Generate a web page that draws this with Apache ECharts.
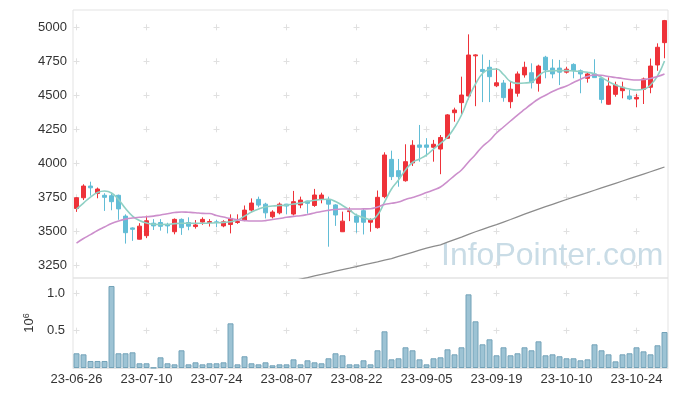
<!DOCTYPE html>
<html><head><meta charset="utf-8">
<script src="https://cdn.jsdelivr.net/npm/echarts/dist/echarts.min.js"></script>
<style>html,body{margin:0;padding:0;background:#fff}#c{width:677px;height:396px}</style>
</head><body><div id="c"></div>
<script>
const dates = ['23-06-26','23-06-27','23-06-28','23-06-29','23-06-30','23-07-03','23-07-04','23-07-05','23-07-06','23-07-07',
'23-07-10','23-07-11','23-07-12','23-07-13','23-07-14','23-07-17','23-07-18','23-07-19','23-07-20','23-07-21',
'23-07-24','23-07-25','23-07-26','23-07-27','23-07-28','23-07-31','23-08-01','23-08-02','23-08-03','23-08-04',
'23-08-07','23-08-08','23-08-09','23-08-10','23-08-11','23-08-14','23-08-16','23-08-17','23-08-18','23-08-21',
'23-08-22','23-08-23','23-08-24','23-08-25','23-08-28','23-08-29','23-08-30','23-08-31','23-09-01','23-09-04',
'23-09-05','23-09-06','23-09-07','23-09-08','23-09-11','23-09-12','23-09-13','23-09-14','23-09-15','23-09-18',
'23-09-19','23-09-20','23-09-21','23-09-22','23-09-25','23-09-26','23-09-27','23-10-04','23-10-05','23-10-06',
'23-10-10','23-10-11','23-10-12','23-10-13','23-10-16','23-10-17','23-10-18','23-10-19','23-10-20','23-10-23',
'23-10-24','23-10-25','23-10-26','23-10-27','23-10-30'];

const openP = [3668,3747,3833,3779,3765,3762,3765,3612,3525,3442,
3468,3560,3565,3550,3497,3588,3565,3535,3568,3565,
3570,3540,3550,3565,3583,3656,3735,3700,3607,3636,
3700,3627,3694,3723,3690,3738,3735,3694,3497,3645,
3612,3652,3567,3527,3755,4029,3946,3872,4003,4135,
4135,4118,4105,4184,4372,4446,4495,4790,4690,4706,
4570,4590,4453,4515,4650,4666,4588,4780,4700,4700,
4670,4727,4680,4625,4657,4625,4434,4507,4534,4495,
4473,4544,4559,4723,4887];
const closeP = [3747,3833,3820,3811,3750,3718,3665,3490,3515,3538,
3578,3540,3537,3540,3588,3527,3538,3547,3588,3572,
3565,3570,3595,3572,3656,3708,3693,3636,3642,3700,
3686,3718,3730,3706,3767,3767,3700,3620,3575,3651,
3567,3567,3582,3750,4061,3902,3902,4012,4133,4118,
4118,4140,4190,4356,4392,4502,4796,4797,4675,4637,
4592,4483,4545,4657,4706,4593,4715,4686,4657,4670,
4692,4681,4657,4657,4630,4470,4568,4576,4559,4473,
4485,4620,4715,4853,5049];
const lowP = [3643,3730,3762,3743,3650,3655,3585,3410,3430,3440,
3450,3510,3505,3485,3478,3474,3508,3520,3548,3535,
3530,3530,3485,3555,3575,3640,3677,3595,3595,3625,
3625,3617,3670,3630,3680,3706,3387,3540,3495,3575,
3490,3477,3497,3520,3743,3877,3828,3865,3980,4012,
4050,4012,3920,4180,4306,4355,4470,4420,4450,4450,
4560,4453,4405,4490,4630,4550,4527,4625,4625,4575,
4660,4625,4515,4593,4630,4441,4430,4490,4478,4465,
4412,4436,4515,4680,4772];
const highP = [3752,3846,3865,3822,3780,3780,3770,3625,3530,3560,
3615,3590,3590,3563,3595,3595,3603,3583,3603,3590,
3585,3582,3625,3625,3690,3742,3755,3710,3655,3712,
3702,3797,3755,3725,3812,3784,3755,3700,3645,3675,
3630,3670,3595,3800,4081,4093,4032,4140,4170,4282,
4185,4172,4208,4362,4409,4637,4948,4802,4800,4760,
4700,4612,4600,4675,4747,4735,4725,4790,4765,4760,
4710,4735,4690,4666,4765,4637,4632,4600,4600,4540,
4510,4630,4770,4882,5054];

const ma5 = [3664,3708,3752,3785,3796,3782,3734,3668,3612,3579,
3561,3551,3550,3551,3557,3559,3559,3559,3559,3561,
3563,3566,3571,3583,3612,3642,3664,3679,3686,3690,
3693,3701,3708,3719,3728,3734,3736,3719,3690,3657,
3620,3601,3587,3620,3715,3811,3877,3951,4006,4032,
4061,4105,4146,4193,4263,4355,4480,4583,4660,4690,
4693,4653,4601,4588,4590,4598,4642,4675,4680,4681,
4681,4679,4675,4669,4658,4631,4601,4576,4559,4546,
4539,4544,4576,4642,4752];
const ma20 = [3414,3447,3476,3506,3532,3557,3576,3590,3598,3603,
3607,3612,3620,3629,3638,3642,3640,3637,3632,3631,
3616,3605,3594,3585,3579,3576,3576,3579,3587,3594,
3603,3610,3615,3624,3635,3646,3654,3660,3664,3664,
3664,3665,3666,3679,3697,3706,3715,3734,3749,3765,
3785,3804,3826,3866,3910,3951,4010,4065,4124,4168,
4223,4267,4311,4355,4396,4436,4473,4500,4528,4550,
4568,4594,4618,4638,4649,4647,4638,4631,4624,4616,
4612,4616,4624,4638,4657];
const ma120 = [null,null,null,null,null,null,null,null,null,null,
null,null,null,null,null,null,null,null,null,null,
null,null,null,null,null,null,null,null,null,null,
3126,3137,3149,3160,3172,3183,3195,3207,3218,3229,
3241,3253,3265,3276,3288,3299,3316,3331,3346,3361,
3376,3390,3401,3420,3439,3458,3478,3497,3515,3532,
3549,3568,3587,3607,3626,3645,3664,3682,3699,3716,
3734,3751,3768,3785,3802,3819,3836,3853,3870,3887,
3904,3921,3938,3955,3973];
// volume in millions (axis unit 10^6)
const volume = [0.197,0.183,0.094,0.094,0.094,1.098,0.197,0.197,0.21,0.063,
0.063,0.004,0.143,0.063,0.049,0.237,0.049,0.076,0.049,0.063,
0.063,0.076,0.598,0.049,0.157,0.063,0.049,0.076,0.036,0.049,
0.049,0.116,0.049,0.103,0.076,0.063,0.13,0.197,0.17,0.049,
0.049,0.103,0.049,0.237,0.491,0.116,0.13,0.277,0.237,0.116,
0.049,0.13,0.143,0.25,0.183,0.277,0.986,0.625,0.317,0.384,
0.17,0.277,0.17,0.197,0.277,0.237,0.357,0.17,0.183,0.157,
0.13,0.13,0.103,0.116,0.317,0.237,0.183,0.089,0.183,0.197,
0.277,0.223,0.183,0.304,0.482];

const priceTicks = [3250,3500,3750,4000,4250,4500,4750,5000];
const volumeTicks = [0.5,1.0];

const FONT = 'Liberation Sans';
const crossColor = '#e0e0e0';
const borderColor = '#e3e3e3';
const candles = dates.map((d, i) => [openP[i], closeP[i], lowP[i], highP[i]]);

const chart = echarts.init(document.getElementById('c'), null, {renderer: 'canvas'});
chart.setOption({
  animation: false,
  backgroundColor: '#ffffff',
  textStyle: {fontFamily: FONT},
  grid: [
    {left: 73, top: 10, width: 595, height: 268, show: true, borderColor: borderColor, borderWidth: 1, outerBoundsMode: 'none', containLabel: false},
    {left: 73, top: 278, width: 595, height: 90, show: true, borderColor: borderColor, borderWidth: 1, outerBoundsMode: 'none', containLabel: false}
  ],
  xAxis: [
    {type: 'category', gridIndex: 0, data: dates, boundaryGap: true,
     axisLine: {show: false}, axisTick: {show: false}, axisLabel: {show: false},
     splitLine: {show: true, interval: 9, alignWithLabel: true,
       lineStyle: {color: crossColor, width: 1, type: [6, 28], dashOffset: 19.7}}},
    {type: 'category', gridIndex: 1, data: dates, boundaryGap: true,
     axisLine: {show: true, lineStyle: {color: borderColor}}, axisTick: {show: false},
     axisLabel: {interval: 9, color: '#333', fontSize: 13, margin: 5, fontFamily: FONT, hideOverlap: false},
     splitLine: {show: true, interval: 9, alignWithLabel: true,
       lineStyle: {color: crossColor, width: 1, type: [6, 31.35], dashOffset: 25.05}}}
  ],
  yAxis: [
    {type: 'value', gridIndex: 0, min: 3157, max: 5127, scale: true,
     axisLine: {show: false},
     axisTick: {show: false, customValues: priceTicks},
     axisLabel: {customValues: priceTicks, color: '#333', fontSize: 13, margin: 6, fontFamily: FONT,
       formatter: v => String(v)},
     splitLine: {show: true, customValues: priceTicks, lineStyle: {color: crossColor, width: 1, type: [6, 64], dashOffset: -0.5}}},
    {type: 'value', gridIndex: 1, min: 0, max: 1.205,
     name: '10{s|6}', nameLocation: 'middle', nameRotate: 90, nameGap: 30,
     nameTextStyle: {color: '#333', fontSize: 13, fontFamily: FONT, rich: {s: {fontSize: 9, fontFamily: FONT, color: '#333', padding: [0, 0, 7, 0]}}},
     axisLine: {show: false},
     axisTick: {show: false, customValues: volumeTicks},
     axisLabel: {customValues: volumeTicks, color: '#333', fontSize: 13, margin: 8, fontFamily: FONT,
       formatter: v => v.toFixed(1)},
     splitLine: {show: true, customValues: volumeTicks, lineStyle: {color: crossColor, width: 1, type: [6, 64], dashOffset: -0.5}}}
  ],
  graphic: [
    {type: 'text', left: 441, top: 240, z: 0, silent: true,
     style: {text: 'InfoPointer.com', fill: '#c9dce6', font: '32px "Liberation Sans"'}}
  ],
  series: [
    {type: 'candlestick', xAxisIndex: 0, yAxisIndex: 0, data: candles, barWidth: 5,
     itemStyle: {color: '#ee3239', color0: '#62bdd6', borderColor: '#ee3239', borderColor0: '#62bdd6', borderWidth: 1}},
    {type: 'line', xAxisIndex: 0, yAxisIndex: 0, data: ma5, smooth: true, symbol: 'none',
     lineStyle: {color: '#8fd0c4', width: 1.6}},
    {type: 'line', xAxisIndex: 0, yAxisIndex: 0, data: ma20, smooth: true, symbol: 'none',
     lineStyle: {color: '#cc8fcc', width: 1.6}},
    {type: 'line', xAxisIndex: 0, yAxisIndex: 0, data: ma120, smooth: false, symbol: 'none',
     lineStyle: {color: '#8c8c8c', width: 1.3}},
    {type: 'bar', xAxisIndex: 1, yAxisIndex: 1, data: volume, barWidth: 6,
     itemStyle: {color: '#9dc3d4', borderColor: '#73a2b8', borderWidth: 1}}
  ]
});
</script></body></html>
